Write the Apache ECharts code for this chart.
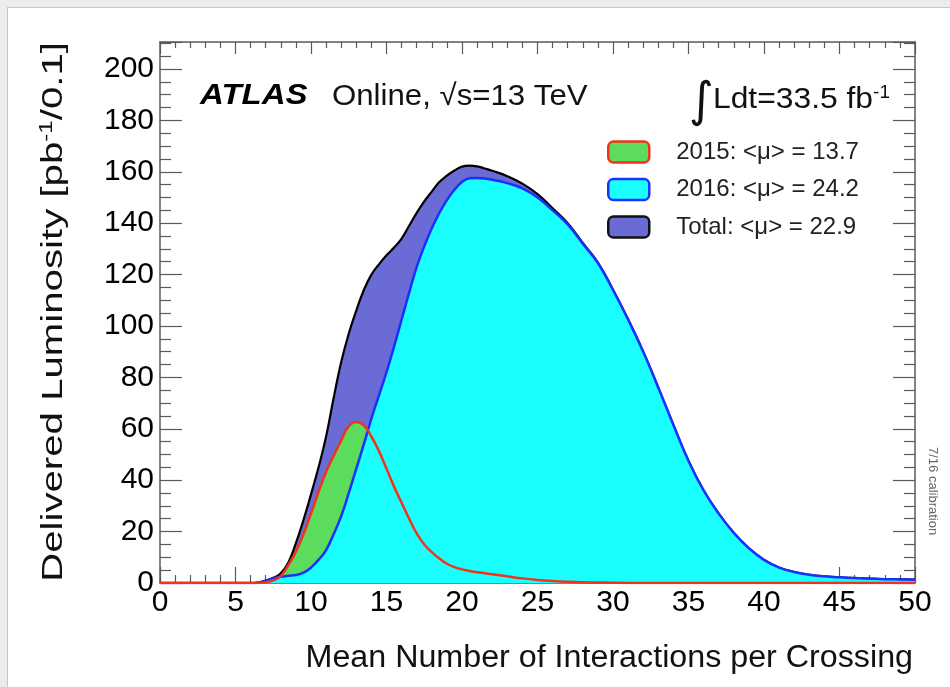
<!DOCTYPE html>
<html>
<head>
<meta charset="utf-8">
<script src="https://cdn.jsdelivr.net/npm/echarts@6/dist/echarts.min.js"></script>
<style>
  html, body { margin: 0; padding: 0; background: #ececec; }
  #panel { position: absolute; left: 7px; top: 7px; width: 960px; height: 700px;
           background: #ffffff; border: 1.5px solid #c6c6c6; }
  #chart { position: absolute; left: 0; top: 0; width: 950px; height: 687px; }
</style>
</head>
<body>
<div id="panel"></div>
<div id="chart"></div>
<script>
// Mean number of interactions per crossing (bin centres)
const mu = [0, 1, 2, 3, 4, 5,
  6, 6.5, 7, 7.5, 8, 8.5, 9, 9.5, 10, 10.5, 11, 11.5, 12, 12.5, 13, 13.5, 14, 14.5,
  15, 15.5, 16, 16.5, 17, 17.5, 18, 18.5, 19, 19.5, 20, 20.5, 21, 21.5, 22,
  23, 24, 25, 26, 27, 28, 29, 30, 31, 32, 33, 34, 35, 36, 37, 38, 39, 40,
  41, 42, 43, 44, 45, 46, 47, 48, 49, 50];

// Delivered luminosity [pb^-1 / 0.1] per year
const lumi2015 = [0, 0, 0, 0, 0, 0,
  0, 0, 0.3, 1, 2.7, 7, 12.2, 19, 27, 35.5, 43.2, 49.5, 55.5, 61, 62.6, 61.3, 57, 51.3,
  44.5, 37.5, 31.2, 25, 19.3, 15, 12, 9.5, 7.5, 6.2, 5.3, 4.7, 4.2, 3.8, 3.4,
  2.6, 1.8, 1.2, 0.8, 0.5, 0.3, 0.2, 0.1, 0, 0, 0, 0, 0, 0, 0, 0, 0, 0,
  0, 0, 0, 0, 0, 0, 0, 0, 0, 0];

const lumi2016 = [0, 0, 0, 0, 0, 0,
  0, 0.2, 0.8, 1.8, 2.4, 2.8, 3.1, 4, 6, 9, 12.8, 19, 26, 35, 44.5, 54, 64, 73,
  82, 92, 102.5, 113, 123, 131, 138, 144, 149, 153, 156, 157.5, 157.6, 157.4, 156.9,
  155.6, 153.5, 150, 145, 139.5, 132, 124.5, 114, 102.5, 90, 76, 61.5, 47.5, 36, 27, 19.5, 13.5, 9,
  6, 4.3, 3.2, 2.6, 2.2, 1.9, 1.7, 1.5, 1.4, 1.3];

const lumiTotal = [0, 0, 0, 0, 0, 0,
  0, 0.2, 1, 2, 3.8, 8, 15.5, 24.5, 34.5, 45, 57, 72, 86, 97, 106, 114, 120, 124,
  127.5, 130.5, 134, 139, 144, 148.5, 152.3, 156, 158.5, 160.5, 162, 162.4, 162.1, 161.3, 160.4,
  158.3, 155.4, 151.3, 145.8, 140, 132.3, 124.7, 114.1, 102.6, 90, 76, 61.5, 47.5, 36, 27, 19.5, 13.5, 9,
  6, 4.3, 3.2, 2.6, 2.2, 1.9, 1.7, 1.5, 1.4, 1.3];

// Axis ticks
const xTickValues = [0, 5, 10, 15, 20, 25, 30, 35, 40, 45, 50];
const yTickValues = [0, 20, 40, 60, 80, 100, 120, 140, 160, 180, 200];

// Legend entries
const name2015 = '2015: <\u03bc> = 13.7';
const name2016 = '2016: <\u03bc> = 24.2';
const nameTotal = 'Total: <\u03bc> = 22.9';

const FONT = '"Liberation Sans", Arial, Helvetica, sans-serif';
const AXIS_COLOR = '#5a5a5a';

const pairs = ys => mu.map((x, i) => [x, ys[i]]);

const chart = echarts.init(document.getElementById('chart'), null, { renderer: 'canvas' });

const xAxisBase = {
  type: 'value', min: 0, max: 50, interval: 5,
  splitLine: { show: false },
  axisLine: { show: true, onZero: false, lineStyle: { color: AXIS_COLOR, width: 1.5 } },
  minorTick: { show: true, splitNumber: 5, length: 8, lineStyle: { color: AXIS_COLOR, width: 1.2 } },
  axisTick: { show: true, inside: true, length: 16, lineStyle: { color: AXIS_COLOR, width: 1.2 } }
};
const yAxisBase = {
  type: 'value', min: 0, max: 210.5, interval: 20,
  splitLine: { show: false },
  axisLine: { show: true, onZero: false, lineStyle: { color: AXIS_COLOR, width: 1.5 } },
  minorTick: { show: true, splitNumber: 4, length: 11, lineStyle: { color: AXIS_COLOR, width: 1.2 } },
  axisTick: { show: true, inside: true, length: 22, lineStyle: { color: AXIS_COLOR, width: 1.2 } }
};

const curve = {
  type: 'line', smooth: 0.45, showSymbol: false, symbol: 'none'
};

chart.setOption({
  animation: false,
  grid: { left: 160, right: 35, top: 42, bottom: 104, containLabel: false },
  xAxis: [
    Object.assign({}, xAxisBase, {
      position: 'bottom',
      axisLabel: {
        color: '#000', fontFamily: FONT, fontSize: 30, margin: 5,
        formatter: v => (xTickValues.indexOf(v) >= 0 ? String(v) : '')
      }
    }),
    Object.assign({}, xAxisBase, {
      position: 'top',
      axisLabel: { show: false },
      axisTick: Object.assign({}, xAxisBase.axisTick, { length: 12 }),
      minorTick: Object.assign({}, xAxisBase.minorTick, { length: 6 })
    })
  ],
  yAxis: [
    Object.assign({}, yAxisBase, {
      position: 'left',
      axisLabel: {
        color: '#000', fontFamily: FONT, fontSize: 30, margin: 6,
        formatter: v => (yTickValues.indexOf(v) >= 0 ? String(v) : '')
      }
    }),
    Object.assign({}, yAxisBase, {
      position: 'right',
      axisLabel: { show: false }
    })
  ],
  legend: {
    orient: 'vertical', left: 607, top: 140, padding: 0,
    itemWidth: 41, itemHeight: 21, itemGap: 13.5,
    icon: 'roundRect',
    selectedMode: false,
    textStyle: { fontFamily: FONT, fontSize: 24, color: '#222', padding: [0, 0, 0, 22] },
    data: [
      { name: name2015, itemStyle: { color: '#5cdc5c', borderColor: '#f2321e', borderWidth: 2.5 } },
      { name: name2016, itemStyle: { color: '#19ffff', borderColor: '#1a30ff', borderWidth: 2.5 } },
      { name: nameTotal, itemStyle: { color: '#6b6bd6', borderColor: '#111111', borderWidth: 2.5 } }
    ]
  },
  series: [
    Object.assign({}, curve, {
      name: nameTotal, data: pairs(lumiTotal), z: 2,
      lineStyle: { color: '#000000', width: 2.2 },
      areaStyle: { color: '#6b6bd6', opacity: 1 },
      itemStyle: { color: '#6b6bd6' }
    }),
    Object.assign({}, curve, {
      name: name2015, data: pairs(lumi2015), z: 3,
      lineStyle: { width: 0, opacity: 0 },
      areaStyle: { color: '#5cdc5c', opacity: 1 },
      itemStyle: { color: '#5cdc5c' }
    }),
    Object.assign({}, curve, {
      name: name2016, data: pairs(lumi2016), z: 4,
      lineStyle: { color: '#1a30ff', width: 2.5 },
      areaStyle: { color: '#19ffff', opacity: 1 },
      itemStyle: { color: '#19ffff' }
    }),
    Object.assign({}, curve, {
      name: name2015, data: pairs(lumi2015), z: 5,
      lineStyle: { color: '#f2321e', width: 2.5 },
      itemStyle: { color: '#5cdc5c' }
    })
  ],
  graphic: [
    {
      type: 'text', x: 200, y: 96, z: 10, scaleX: 1.1,
      style: { text: 'ATLAS', font: 'italic bold 30px ' + FONT, fill: '#000', verticalAlign: 'middle' }
    },
    {
      type: 'text', x: 332, y: 97, z: 10, scaleX: 1.04,
      style: { text: 'Online, \u221as=13 TeV', font: '30px ' + FONT, fill: '#111', verticalAlign: 'middle' }
    },
    {
      type: 'text', x: 689, y: 104, z: 10,
      style: { text: '\u222b', font: '48px "DejaVu Sans", ' + FONT, fill: '#111', verticalAlign: 'middle' }
    },
    {
      type: 'text', x: 713, y: 100, z: 10, scaleX: 1.06,
      style: {
        text: '{m|Ldt=33.5 fb}{s|-1}', verticalAlign: 'middle',
        rich: {
          m: { font: '30px ' + FONT, fill: '#111' },
          s: { font: '18px ' + FONT, fill: '#111', verticalAlign: 'top', padding: [0, 0, 14, 0] }
        }
      }
    },
    {
      type: 'text', x: 54, y: 42, rotation: Math.PI / 2, z: 10, scaleX: 1.34,
      style: {
        text: '{m|Delivered Luminosity [pb}{s|-1}{m|/0.1]}', align: 'right', verticalAlign: 'middle',
        rich: {
          m: { font: '30px ' + FONT, fill: '#111' },
          s: { font: '18px ' + FONT, fill: '#111', verticalAlign: 'top', padding: [0, 0, 14, 0] }
        }
      }
    },
    {
      type: 'text', x: 913, y: 658, z: 10, scaleX: 1.04,
      style: { text: 'Mean Number of Interactions per Crossing', font: '31px ' + FONT, fill: '#111',
               align: 'right', verticalAlign: 'middle' }
    },
    {
      type: 'text', x: 933, y: 447, rotation: -Math.PI / 2, z: 10,
      style: { text: '7/16 calibration', font: '13px ' + FONT, fill: '#666',
               align: 'left', verticalAlign: 'middle' }
    }
  ]
});
</script>
</body>
</html>
